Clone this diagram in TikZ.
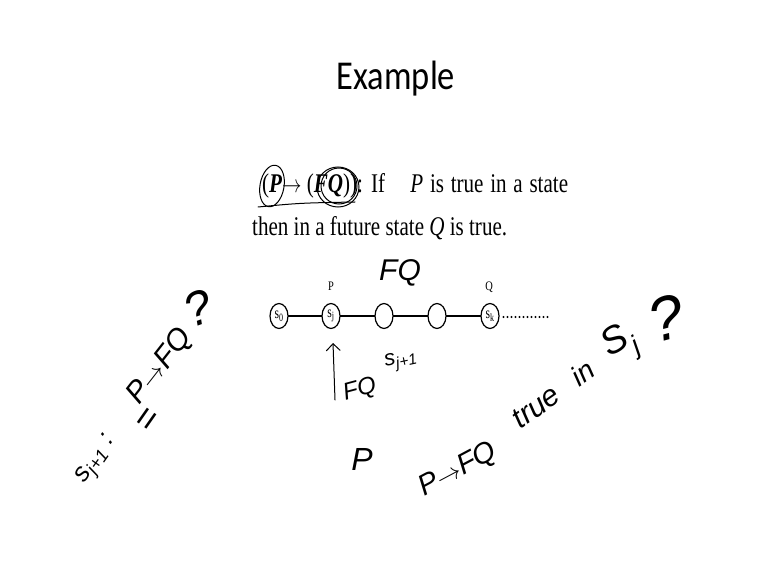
\documentclass[tikz,border=0pt]{standalone}
\usepackage{fontspec}
\setmainfont{Liberation Serif}
\newfontfamily\titlefont{Carlito}
\newfontfamily\handfont{Liberation Sans}
\usetikzlibrary{arrows.meta}

\begin{document}
\begin{tikzpicture}[x=1pt,y=-1pt,
    state/.style={circle, draw, line width=1.2pt, minimum size=25pt, inner sep=0pt, xscale=0.72, font=\fontsize{16}{16}\selectfont},
    link/.style={line width=1.2pt},
    hand/.style={line width=1pt, line cap=round},
    handtext/.style={font=\handfont\itshape\fontsize{#1}{#1}\selectfont, inner sep=0pt},
    handtext/.default=24,
    slide/.style={font=\fontsize{27}{30}\selectfont, inner sep=0pt, anchor=base west, xscale=0.78}
]

% Page
\fill[white] (0,0) rectangle (770,577);
\useasboundingbox (0,0) rectangle (770,577);

% Title and statement
\node[font=\titlefont\fontsize{41}{41}\selectfont, anchor=base, xscale=0.84] (title) at (396,90) {Example};
\node[slide] (formula) at (262,193) {(\textbf{\textit{P}}$\rightarrow$ (\textbf{\textit{FQ}})):};
\node[slide] (line1) at (371,193) {\spaceskip=0.32em If\hspace{1.2em}\textit{P} is true in a state};
\node[slide] (line2) at (252,236) {then in a future state \textit{Q} is true.};

% Handwritten marks on the statement
\draw[hand, rotate around={-10:(272,186)}] (272,186) ellipse [x radius=12, y radius=21];
\draw[hand] (338,187) ellipse [x radius=21, y radius=20];
\draw[hand] (339,186) ellipse [x radius=18, y radius=18];
\draw[hand] (258,207) .. controls (300,203) .. (355,202);

% States
\node[state] (s0) at (279,316) {s\textsubscript{0}};
\node[state] (sj) at (331,316) {s\textsubscript{j}};
\node[state] (m1) at (384,316) {};
\node[state] (m2) at (437,316) {};
\node[state] (sk) at (490,316) {s\textsubscript{k}};
\coordinate (tail) at (550,317);

\draw[link] (s0) -- (sj) -- (m1) -- (m2) -- (sk);
\draw[line width=2.2pt, line cap=round, dash pattern=on 0pt off 4pt] (sk.east) ++(4,1) -- (tail);

\node[font=\fontsize{13}{13}\selectfont, xscale=0.8] (lblP) at (331,286) {P};
\node[font=\fontsize{13}{13}\selectfont, xscale=0.8] (lblQ) at (489,287) {Q};

% Handwriting around the path
\node[handtext=30] (fqtop) at (400,273) {FQ};
\coordinate (arrowfoot) at (335,400);
\coordinate (arrowtip) at (333,343);
\draw[hand, -{Straight Barb[length=7pt]}] (arrowfoot) -- (arrowtip);
\node[handtext=24, rotate=15] (fqlow) at (360,390) {FQ};
\node[handtext=22, rotate=12] (snext) at (401,361) {s\textsubscript{j+1}};

% Left question
\node[handtext=26, rotate=55] (leftstate) at (97,460) {s\textsubscript{j+1} :};
\node[handtext=30, rotate=52] (leftform) at (160,367) {P$\rightarrow$FQ};
\node[handtext=48, rotate=20] (leftmark) at (198,308) {?};
\node[handtext=36, rotate=55] (lefteq) at (149,421) {=};

% Bottom notes
\node[handtext=32] (lowP) at (362,459) {P};
\node[handtext=29, rotate=28] (rightform) at (458,470) {P$\rightarrow$FQ};
\node[handtext=30, rotate=35] (righttrue) at (536,407) {true};
\node[handtext=28, rotate=35] (rightin) at (583,373) {in};
\node[handtext=38, rotate=30] (rightstate) at (621,345) {S\textsubscript{j}};
\node[handtext=62, rotate=15] (rightmark) at (667,318) {?};

\end{tikzpicture}
\end{document}
